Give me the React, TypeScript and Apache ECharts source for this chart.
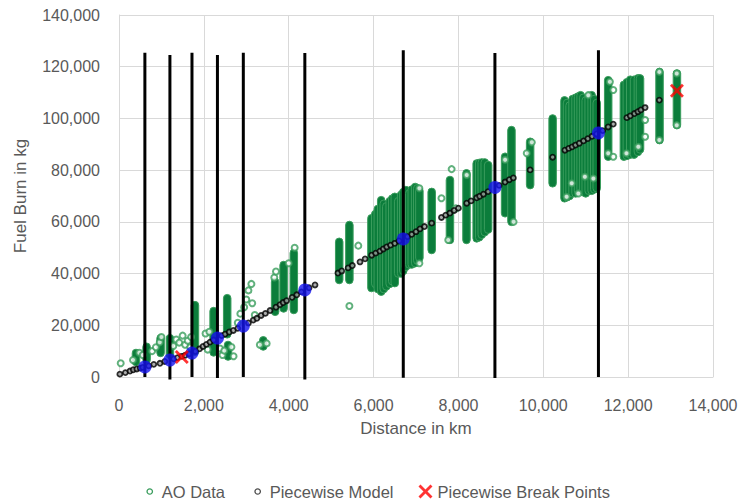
import React, { useEffect, useRef } from "react";
import * as echarts from "echarts";

// ---- Data (km, kg) ----
// Dense AO data columns: [distance km, min fuel kg, max fuel kg]
const aoColumns: number[][] = [
  [400, 5800, 9300],
  [650, 6600, 11700],
  [980, 9300, 15000],
  [1200, 8500, 15000],
  [1790, 9800, 27800],
  [2230, 9500, 25500],
  [2550, 16500, 30500],
  [2570, 7900, 12400],
  [3400, 11800, 14200],
  [3680, 25200, 36800],
  [3880, 26500, 43300],
  [4120, 25900, 48000],
  [5190, 37500, 52300],
  [5430, 37500, 58800],
  [5950, 34400, 61400],
  [6040, 36000, 63000],
  [6100, 34000, 65000],
  [6180, 33000, 68400],
  [6240, 34000, 67000],
  [6300, 35000, 66000],
  [6380, 36000, 68000],
  [6440, 37000, 69000],
  [6500, 36300, 69700],
  [6580, 40000, 68000],
  [6650, 40000, 70500],
  [6700, 41000, 71500],
  [6760, 42600, 72300],
  [6840, 43500, 71000],
  [6900, 43500, 72500],
  [6980, 44000, 73500],
  [7030, 45000, 73000],
  [7080, 46000, 72000],
  [7370, 49100, 71600],
  [7800, 53000, 76200],
  [8190, 53000, 78800],
  [8430, 53600, 82600],
  [8490, 54000, 82800],
  [8550, 55000, 83000],
  [8620, 56000, 83000],
  [8700, 57000, 82000],
  [9100, 63300, 85200],
  [9250, 60000, 95500],
  [9690, 74200, 91000],
  [10220, 74900, 100000],
  [10500, 69100, 107000],
  [10560, 69500, 106000],
  [10620, 70000, 105000],
  [10690, 71000, 107500],
  [10760, 71000, 108000],
  [10820, 72000, 108500],
  [10880, 72500, 109000],
  [10940, 71500, 108000],
  [11000, 71000, 107000],
  [11070, 72000, 108500],
  [11140, 72000, 109000],
  [11200, 72500, 107500],
  [11260, 73000, 106000],
  [11530, 85200, 114800],
  [11900, 85200, 113000],
  [11970, 85500, 114000],
  [12050, 86000, 115000],
  [12140, 86000, 115000],
  [12230, 87000, 115500],
  [12280, 88000, 115500],
  [12740, 91600, 118000],
  [13150, 97400, 117400],
];

// Scattered AO data points
const aoPoints: number[][] = [
  [40, 5300], [330, 6600], [480, 9400], [560, 8500], [780, 10000], [870, 11500],
  [960, 13400], [1000, 15500], [1280, 12000], [1350, 14500], [1420, 13300],
  [1500, 16000], [1560, 12500], [1620, 14000], [1680, 11500], [1700, 15500],
  [2040, 16800], [2130, 17500], [2090, 10600], [2380, 11000], [2440, 8500],
  [2480, 10200], [2650, 11600], [2700, 8000], [2800, 21000], [2860, 24500],
  [2950, 27000], [3000, 30000], [3050, 33500], [3120, 36000], [3140, 28500],
  [3200, 24000], [3320, 12500], [3480, 13000], [3660, 38500], [3700, 40800],
  [4000, 44000], [4140, 50000], [5430, 27450], [5640, 50800],
  [7080, 73000], [7080, 44000], [7760, 53000], [7600, 69100], [7940, 65200],
  [7840, 80400], [8195, 78100], [9610, 86500], [9730, 90750], [9300, 60000],
  [9100, 84000], [10550, 69700], [10670, 74900], [10825, 71000], [10980, 77450],
  [11180, 76800], [11060, 109000], [11570, 114200], [11650, 111000],
  [11530, 86500], [11650, 85200], [11960, 86500], [12240, 89050],
  [12400, 99400], [12400, 92900], [12735, 91650], [12735, 118000],
  [13145, 117400], [13145, 97400],
];

// Piecewise model points
const modelPoints: number[][] = [
  [20, 1100], [150, 1700], [260, 2300], [337, 2800], [420, 3100], [500, 3450],
  [560, 3700], [700, 4300], [820, 4900], [966, 5300], [1080, 6000], [1290, 7000],
  [1380, 7500], [1480, 8000], [1560, 8400], [1650, 8900], [1800, 9900],
  [1900, 10900], [1980, 11800], [2060, 12600], [2145, 13500], [2230, 14300],
  [2420, 16000], [2500, 16600], [2600, 17400], [2695, 18000], [2800, 18800],
  [3050, 20900], [3165, 22000], [3250, 22700], [3350, 23800], [3450, 24600],
  [3560, 25700], [3700, 27000], [3795, 28000], [3870, 28800], [3950, 29500],
  [4080, 30800], [4190, 31800], [4300, 32900], [4480, 34500], [4620, 35600],
  [5160, 40200], [5250, 41000], [5400, 42200], [5500, 43100], [5680, 44500],
  [5800, 45700], [5955, 47100], [6050, 47900], [6150, 48700], [6230, 49500],
  [6310, 50300], [6400, 51000], [6500, 51700], [6600, 52600], [6800, 54300],
  [6900, 55200], [7000, 56200], [7095, 57300], [7200, 58200], [7370, 59500],
  [7600, 61700], [7700, 62600], [7800, 63400], [7900, 64400], [8000, 65300],
  [8195, 67200], [8300, 68100], [8430, 69300], [8500, 69900], [8590, 70700],
  [8700, 71700], [8960, 74100], [9100, 75400], [9200, 76300], [9295, 77000],
  [9690, 80100], [10220, 85000], [10510, 87700], [10600, 88400], [10680, 89000],
  [10760, 89700], [10850, 90400], [10950, 91300], [11050, 92200], [11150, 93100],
  [11260, 94000], [11400, 95300], [11530, 96700], [11650, 97800], [11970, 100300],
  [12050, 101000], [12150, 101900], [12230, 102600], [12300, 103300],
  [12400, 104200], [12735, 107100],
];

// Break points (blue markers at vertical lines)
const breakKm = [610, 1200, 1720, 2320, 2930, 4380, 6700, 8860, 11300];
const breakKg = [3870, 6575, 9280, 15080, 19720, 33650, 53400, 73300, 94400];
const lineTopKg = [125400, 124500, 125400, 124500, 125400, 125300, 126400, 125300, 126400];
const lineBottomKg = [0, -1000, 0, -400, 0, -1000, -300, -400, 0];

// Piecewise break points (red crosses)
const redBreaks: number[][] = [
  [1480, 7700],
  [13150, 110700],
];

const xTicks = { min: 0, max: 14000, interval: 2000 };
const yTicks = { min: 0, max: 140000, interval: 20000 };

const FONT = "Liberation Sans, Arial, sans-serif";
const TEXT = "#595959";
const GRID = "#d9d9d9";
const X_PATH =
  "path://M2,0 L7,5 L12,0 L14,2 L9,7 L14,12 L12,14 L7,9 L2,14 L0,12 L5,7 L0,2 Z";
const SMALL_CIRCLE = "path://M0,0 M14,14 M7,4.3 A2.7,2.7 0 1 1 7,9.7 A2.7,2.7 0 1 1 7,4.3 Z";

const fmt = (v: number) => v.toLocaleString("en-US");

export default function App() {
  const ref = useRef<HTMLDivElement>(null);

  useEffect(() => {
    if (!ref.current) return;
    const chart = echarts.init(ref.current, undefined, { renderer: "svg" });

    const lineData = breakKm.map((x, i) => [x, lineBottomKg[i], lineTopKg[i]]);
    const blueData = breakKm.map((x, i) => [x, breakKg[i]]);

    chart.setOption({
      animation: false,
      backgroundColor: "#ffffff",
      grid: { left: 119, right: 39, top: 15, bottom: 125, containLabel: false },
      xAxis: {
        type: "value",
        min: xTicks.min,
        max: xTicks.max,
        interval: xTicks.interval,
        name: "Distance in km",
        nameLocation: "middle",
        nameGap: 43,
        nameTextStyle: { color: TEXT, fontSize: 17, fontFamily: FONT },
        axisLine: { show: true, lineStyle: { color: GRID, width: 1 } },
        axisTick: { show: false },
        axisLabel: { color: TEXT, fontSize: 16, fontFamily: FONT, margin: 20, formatter: fmt },
        splitLine: { show: true, lineStyle: { color: GRID, width: 1 } },
      },
      yAxis: {
        type: "value",
        min: yTicks.min,
        max: yTicks.max,
        interval: yTicks.interval,
        name: "Fuel Burn in kg",
        nameLocation: "middle",
        nameGap: 90,
        nameTextStyle: { color: TEXT, fontSize: 17, fontFamily: FONT },
        axisLine: { show: true, lineStyle: { color: GRID, width: 1 } },
        axisTick: { show: false },
        axisLabel: { color: TEXT, fontSize: 16, fontFamily: FONT, margin: 19, formatter: fmt },
        splitLine: { show: true, lineStyle: { color: GRID, width: 1 } },
      },
      legend: {
        top: 478,
        left: "center",
        itemWidth: 14,
        itemHeight: 14,
        itemGap: 25,
        textStyle: { color: TEXT, fontSize: 16.5, fontFamily: FONT },
        selectedMode: false,
        data: [
          {
            name: "AO Data",
            icon: SMALL_CIRCLE,
            itemStyle: { color: "rgba(255,255,255,0)", borderColor: "#3a9d5d", borderWidth: 1.3 },
          },
          {
            name: "Piecewise Model",
            icon: SMALL_CIRCLE,
            itemStyle: { color: "rgba(255,255,255,0)", borderColor: "#222222", borderWidth: 1.3 },
          },
          {
            name: "Piecewise Break Points",
            icon: X_PATH,
            itemStyle: { color: "#ff0000", borderWidth: 0 },
          },
        ],
      },
      series: [
        {
          name: "AO Data",
          type: "custom",
          z: 2,
          data: aoColumns,
          encode: { x: 0, y: [1, 2] },
          renderItem: (params: any, api: any) => {
            const x = api.value(0);
            const lo = api.value(1);
            const hi = api.value(2);
            const p1 = api.coord([x, hi]);
            const p2 = api.coord([x, lo]);
            const w = 7.5;
            return {
              type: "rect",
              shape: { x: p1[0] - w / 2, y: p1[1] - w / 2, width: w, height: p2[1] - p1[1] + w, r: w / 2 },
              style: { fill: "#0b7d3b", stroke: "#3a9d5d", lineWidth: 1 },
            };
          },
        },
        {
          name: "AO Data",
          type: "scatter",
          z: 3,
          data: aoPoints,
          symbol: "emptyCircle",
          symbolSize: 6,
          itemStyle: { color: "#3a9d5d", borderColor: "#3a9d5d", borderWidth: 1.3 },
        },
        {
          name: "Piecewise Model",
          type: "scatter",
          z: 4,
          data: modelPoints,
          symbol: "circle",
          symbolSize: 5,
          itemStyle: { color: "#9a9a9a", borderColor: "#000000", borderWidth: 1.8 },
        },
        {
          name: "Break Lines",
          type: "custom",
          z: 5,
          data: lineData,
          encode: { x: 0, y: [1, 2] },
          renderItem: (params: any, api: any) => {
            const x = api.value(0);
            const p1 = api.coord([x, api.value(2)]);
            const p2 = api.coord([x, api.value(1)]);
            return {
              type: "line",
              shape: { x1: p1[0], y1: p1[1], x2: p2[0], y2: p2[1] },
              style: { stroke: "#000000", lineWidth: 3 },
            };
          },
        },
        {
          name: "Break Markers",
          type: "scatter",
          z: 6,
          data: blueData,
          symbol: "circle",
          symbolSize: 13,
          itemStyle: { color: "#1414ee" },
        },
        {
          name: "Piecewise Break Points",
          type: "scatter",
          z: 7,
          data: redBreaks,
          symbol: X_PATH,
          symbolSize: 14,
          itemStyle: { color: "#ff0000" },
        },
      ],
    });

    return () => chart.dispose();
  }, []);

  return <div ref={ref} style={{ width: 752, height: 502, position: "absolute", left: 0, top: 0 }} />;
}
